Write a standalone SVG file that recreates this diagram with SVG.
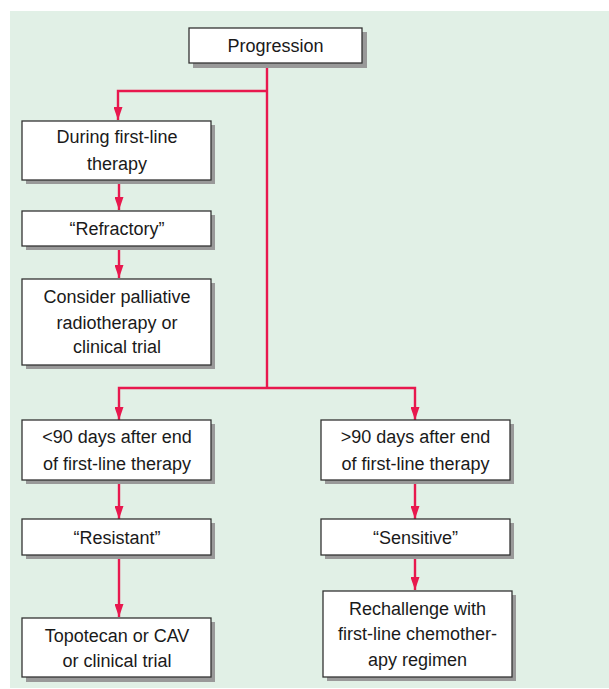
<svg xmlns="http://www.w3.org/2000/svg" width="609" height="689" viewBox="0 0 609 689">
<style>
.bg{fill:#e1f0e6}
.box{fill:#fff;stroke:#333;stroke-width:1.3}
.sh{fill:#999}
.t{font-family:"Liberation Sans",Arial,sans-serif;font-size:18px;fill:#1a1a1a;text-anchor:middle}
.c{fill:none;stroke:#e8184e;stroke-width:2.4}
</style>
<defs>
<marker id="ah" markerUnits="userSpaceOnUse" markerWidth="13" markerHeight="9" refX="13" refY="4.5" orient="auto" viewBox="0 0 13 9">
<path d="M0,0 L13,4.5 L0,9 z" fill="#e8184e"/>
</marker>
</defs>
<rect class="bg" x="10" y="11" width="599" height="677"/>
<g id="connectors">
<path class="c" d="M267,64 V388"/>
<path class="c" d="M267,91 H118 V120" marker-end="url(#ah)"/>
<path class="c" d="M119,184 V210" marker-end="url(#ah)"/>
<path class="c" d="M119,250 V278" marker-end="url(#ah)"/>
<path class="c" d="M267,388 H119 V420" marker-end="url(#ah)"/>
<path class="c" d="M267,388 H415 V420" marker-end="url(#ah)"/>
<path class="c" d="M119,484 V519" marker-end="url(#ah)"/>
<path class="c" d="M119,559 V617" marker-end="url(#ah)"/>
<path class="c" d="M415,484 V519" marker-end="url(#ah)"/>
<path class="c" d="M415,559 V590" marker-end="url(#ah)"/>
</g>
<g id="progression">
<rect class="sh" x="193" y="32" width="174" height="36"/>
<rect class="box" x="189" y="28" width="173" height="35"/>
<text class="t" x="275.5" y="52">Progression</text>
</g>
<g id="during">
<rect class="sh" x="26" y="125" width="189" height="59"/>
<rect class="box" x="22" y="121" width="189" height="59"/>
<text class="t" x="117" y="143">During first-line</text>
<text class="t" x="117" y="169.5">therapy</text>
</g>
<g id="refractory">
<rect class="sh" x="26" y="215" width="189" height="35"/>
<rect class="box" x="22" y="211" width="189" height="35"/>
<text class="t" x="117" y="235">“Refractory”</text>
</g>
<g id="consider">
<rect class="sh" x="26" y="283" width="189" height="86"/>
<rect class="box" x="22" y="279" width="189" height="86"/>
<text class="t" x="117" y="303">Consider palliative</text>
<text class="t" x="117" y="329">radiotherapy or</text>
<text class="t" x="117" y="353">clinical trial</text>
</g>
<g id="lt90">
<rect class="sh" x="26" y="424" width="189" height="60"/>
<rect class="box" x="22" y="420" width="189" height="60"/>
<text class="t" x="117" y="443">&lt;90 days after end</text>
<text class="t" x="117" y="469.5">of first-line therapy</text>
</g>
<g id="gt90">
<rect class="sh" x="325" y="424" width="189" height="60"/>
<rect class="box" x="321" y="420" width="189" height="60"/>
<text class="t" x="415.5" y="443">&gt;90 days after end</text>
<text class="t" x="415.5" y="469.5">of first-line therapy</text>
</g>
<g id="resistant">
<rect class="sh" x="26" y="523" width="189" height="36"/>
<rect class="box" x="22" y="519" width="189" height="36"/>
<text class="t" x="117" y="543.5">“Resistant”</text>
</g>
<g id="sensitive">
<rect class="sh" x="325" y="523" width="189" height="36"/>
<rect class="box" x="321" y="519" width="189" height="36"/>
<text class="t" x="415.5" y="543.5">“Sensitive”</text>
</g>
<g id="topotecan">
<rect class="sh" x="26" y="622" width="189" height="60"/>
<rect class="box" x="22" y="618" width="189" height="59"/>
<text class="t" x="117" y="641.5">Topotecan or CAV</text>
<text class="t" x="117" y="666.5">or clinical trial</text>
</g>
<g id="rechallenge">
<rect class="sh" x="327" y="595" width="189" height="86"/>
<rect class="box" x="323" y="591" width="189" height="86"/>
<text class="t" x="417.5" y="614.5">Rechallenge with</text>
<text class="t" x="417.5" y="640">first-line chemother-</text>
<text class="t" x="417.5" y="666">apy regimen</text>
</g>
</svg>
